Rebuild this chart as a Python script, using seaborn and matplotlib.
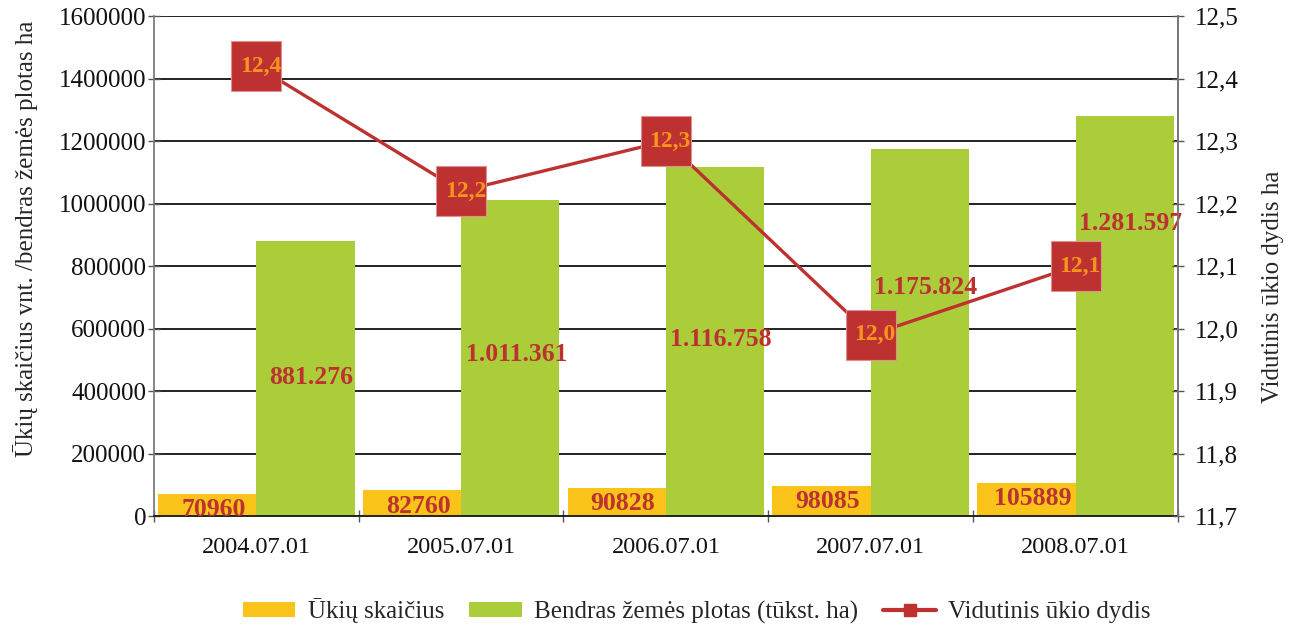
import numpy as np
import pandas as pd
import matplotlib
matplotlib.use("Agg")
import matplotlib.pyplot as plt
import seaborn as sns
from matplotlib.patches import Patch
from matplotlib.lines import Line2D
from matplotlib.ticker import FuncFormatter, MultipleLocator, FixedLocator

# duomenys
datos = ["2004.07.01", "2005.07.01", "2006.07.01", "2007.07.01", "2008.07.01"]
ukiu_skaicius = [70960, 82760, 90828, 98085, 105889]
zemes_plotas = [881276, 1011361, 1116758, 1175824, 1281597]
plotas_etiketes = ["881.276", "1.011.361", "1.116.758", "1.175.824", "1.281.597"]
vid_dydis = [12.42, 12.22, 12.30, 11.99, 12.10]

ser1 = "Ūkių skaičius"
ser2 = "Bendras žemės plotas (tūkst. ha)"
ser3 = "Vidutinis ūkio dydis"

# etikečių aukštis kaip juostos dalis
etik_dalis = [0.505, 0.51, 0.505, 0.623, 0.73]

GELTONA = "#FAC31A"
ZALIA = "#ABCD3A"
RAUDONA = "#BD3230"
ORANZINE = "#F7941D"

sns.set_theme(style="white")
plt.rcParams["font.family"] = ["Liberation Serif", "DejaVu Serif"]

df = pd.DataFrame({
    "data": datos * 2,
    "reiksme": ukiu_skaicius + zemes_plotas,
    "serija": [ser1] * 5 + [ser2] * 5,
})

fig = plt.figure(figsize=(12.93, 6.28), dpi=100)
ax = fig.add_axes([0.119, 0.178, 0.792, 0.7965])

sns.barplot(data=df, x="data", y="reiksme", hue="serija",
            palette=[GELTONA, ZALIA], width=0.96, gap=0, saturation=1,
            edgecolor="none", linewidth=0, ax=ax, legend=False)

ax.set_xlim(-0.5, 4.5)
ax.set_ylim(0, 1600000)
ax.yaxis.set_major_locator(MultipleLocator(200000))
ax.yaxis.set_major_formatter(FuncFormatter(lambda v, p: f"{int(v)}"))
ax.set_axisbelow(True)
ax.grid(axis="y", color="#222222", linewidth=1.4)
ax.grid(axis="x", visible=False)

# ašys ir brūkšneliai
ax.spines["top"].set_visible(False)
ax.spines["left"].set_color("#777777")
ax.spines["right"].set_color("#777777")
ax.spines["bottom"].set_color("#222222")
ax.spines["bottom"].set_linewidth(1.4)
ax.tick_params(axis="y", which="major", direction="inout", length=9, width=1,
               color="#555555", labelsize=18, pad=1, left=True, labelcolor="#111111")
ax.tick_params(axis="x", which="major", length=0, labelsize=17.5, pad=15,
               labelcolor="#111111")
ax.xaxis.set_minor_locator(FixedLocator([-0.5, 0.5, 1.5, 2.5, 3.5, 4.5]))
ax.tick_params(axis="x", which="minor", direction="inout", length=9, width=1,
               color="#555555", bottom=True)
ax.set_xlabel("")
ax.set_ylabel("Ūkių skaičius vnt. /bendras žemės plotas ha", fontsize=18)
ax.yaxis.set_label_coords(-0.113, 0.554)

# juostų etiketės
for i, v in enumerate(ukiu_skaicius):
    ax.annotate(str(v), (i - 0.24 + 0.03, v), xytext=(0, -3), textcoords="offset points",
                ha="center", va="top", fontsize=18.5, fontweight="bold", color=RAUDONA)
for i, v in enumerate(zemes_plotas):
    ax.text(i + 0.24 + 0.03, v * etik_dalis[i], plotas_etiketes[i], ha="center",
            va="center", fontsize=18.5, fontweight="bold", color=RAUDONA)

# antroji ašis
ax2 = ax.twinx()
sns.lineplot(x=np.arange(5), y=vid_dydis, ax=ax2, color=RAUDONA, linewidth=2.4,
             marker="s", markersize=36, markeredgecolor="#E09090",
             markeredgewidth=0.8)
ax2.set_ylim(11.7, 12.5)
ax2.yaxis.set_major_locator(MultipleLocator(0.1))
ax2.yaxis.set_major_formatter(FuncFormatter(lambda v, p: f"{v:.1f}".replace(".", ",")))
ax2.tick_params(axis="y", direction="inout", length=9, width=1, color="#555555",
                labelsize=18, pad=8, right=True, labelcolor="#111111")
for s in ["top", "left", "bottom"]:
    ax2.spines[s].set_visible(False)
ax2.spines["right"].set_color("#777777")
ax2.set_ylabel("Vidutinis ūkio dydis ha", fontsize=18)
ax2.yaxis.set_label_coords(1.082, 0.458)
ax2.grid(False)

for i, v in enumerate(vid_dydis):
    ax2.annotate(f"{v:.1f}".replace(".", ","), (i, v), xytext=(3, 0),
                 textcoords="offset points", ha="center", va="center",
                 fontsize=17, fontweight="bold", color=ORANZINE)

# legenda
rankenos = [
    Patch(facecolor=GELTONA, edgecolor="none", label=ser1),
    Patch(facecolor=ZALIA, edgecolor="none", label=ser2),
    Line2D([0], [0], color=RAUDONA, linewidth=3, marker="s", markersize=8, label=ser3),
]
fig.legend(handles=rankenos, loc="center", bbox_to_anchor=(0.539, 0.027), ncol=3,
           frameon=False, fontsize=18, handlelength=2.1, handleheight=0.55,
           columnspacing=1.0, handletextpad=0.5)

fig.savefig("out.png", dpi=100)
